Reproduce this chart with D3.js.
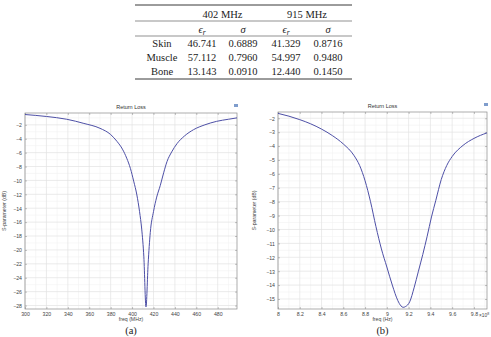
<html>
<head>
<script src="https://d3js.org/d3.v7.min.js"></script>
<style>
  body { margin: 0; background: #fff; }
  svg text { font-family: "Liberation Sans", Arial, sans-serif; }
  .tbl text { font-family: "Liberation Serif", "DejaVu Serif", serif; font-size: 10.5px; fill: #222; }
  .axis text { font-size: 5.2px; fill: #444; }
</style>
</head>
<body>
<svg id="fig" width="491" height="337"></svg>
<script>
// ---- table values ----
const tissues = ["Skin", "Muscle", "Bone"];
const eps402 = ["46.741", "57.112", "13.143"];
const sig402 = ["0.6889", "0.7960", "0.0910"];
const eps915 = ["41.329", "54.997", "12.440"];
const sig915 = ["0.8716", "0.9480", "0.1450"];
const bands = ["402 MHz", "915 MHz"];

// ---- (a) return loss, MHz / dB ----
const freqA = [300, 320, 339, 355, 370, 380, 386, 391, 395, 398.5, 401.5, 404.5, 407, 409, 411, 413,
               415, 417, 420, 423, 426.4, 429.5, 432.6, 437, 442, 449, 457.4, 468, 479, 490, 498];
const s11A  = [-0.52, -0.8, -1.2, -1.8, -2.5, -3.4, -4.4, -5.5, -6.8, -8.3, -10.1, -12.1, -14.5, -17, -21, -28.2,
               -22, -17.5, -14.5, -12.4, -10.7, -8.9, -7.3, -5.9, -4.7, -3.6, -2.7, -2.0, -1.5, -1.2, -1.0];
const ticksXA = [300, 320, 340, 360, 380, 400, 420, 440, 460, 480];
const ticksYA = [-2, -4, -6, -8, -10, -12, -14, -16, -18, -20, -22, -24, -26, -28];

// ---- (b) return loss, freq in 1e8 Hz / dB ----
const freqB = [8.0, 8.1, 8.2, 8.3, 8.4, 8.5, 8.6, 8.7, 8.75, 8.8, 8.85, 8.9, 8.95, 9.0, 9.05, 9.1, 9.13, 9.15,
               9.17, 9.21, 9.25, 9.29, 9.33, 9.37, 9.41, 9.45, 9.5, 9.55, 9.6, 9.7, 9.8, 9.92];
const s11B  = [-1.65, -1.85, -2.1, -2.4, -2.78, -3.25, -3.85, -4.7, -5.4, -6.5, -8.0, -9.8, -11.4, -12.7, -14.0, -15.1, -15.5, -15.6,
               -15.55, -15.2, -14.2, -13.0, -11.8, -10.5, -9.1, -7.9, -6.4, -5.4, -4.75, -3.95, -3.45, -3.05];
const ticksXB = [8, 8.2, 8.4, 8.6, 8.8, 9, 9.2, 9.4, 9.6, 9.8];
const ticksYB = [-2, -3, -4, -5, -6, -7, -8, -9, -10, -11, -12, -13, -14, -15];

const svg = d3.select("svg#fig");

// ---------- table ----------
const tbl = svg.append("g").attr("class", "tbl");
const colX = [162, 202, 243, 286, 328];
const rowY = [17.5, 32.5, 46.5, 60.5, 74.5];
[[5, 0.9], [21, 0.5], [36, 0.5], [79, 0.9]].forEach(r => {
  tbl.append("line").attr("x1", 135).attr("x2", 352)
    .attr("y1", r[0]).attr("y2", r[0]).attr("stroke", "#222").attr("stroke-width", r[1]);
});
tbl.selectAll("text.band").data(bands).join("text")
  .attr("x", (d, i) => (colX[1 + 2 * i] + colX[2 + 2 * i]) / 2)
  .attr("y", rowY[0]).attr("text-anchor", "middle").text(d => d);
[1, 2, 3, 4].forEach(c => {
  const t = tbl.append("text").attr("x", colX[c]).attr("y", rowY[1]).attr("text-anchor", "middle")
    .style("font-style", "italic");
  if (c % 2 == 1) {
    t.append("tspan").text("ϵ");
    t.append("tspan").attr("font-size", "7.5px").attr("dy", 2).text("r");
  } else {
    t.text("σ");
  }
});
tissues.forEach((name, i) => {
  [name, eps402[i], sig402[i], eps915[i], sig915[i]].forEach((v, c) => {
    tbl.append("text").attr("x", colX[c]).attr("y", rowY[2 + i])
      .attr("text-anchor", "middle").text(v);
  });
});

// ---------- plots ----------
function drawPanel(p) {
  const x = d3.scaleLinear().domain(p.xDomain).range([p.left, p.right]);
  const y = d3.scaleLinear().domain(p.yDomain).range([p.bottom, p.top]);
  const g = svg.append("g");

  // minor grid
  g.selectAll("line.minx").data(p.minorX).join("line")
    .attr("x1", d => x(d)).attr("x2", d => x(d)).attr("y1", p.top).attr("y2", p.bottom)
    .attr("stroke", "#f1f1f1").attr("stroke-width", 0.6);
  g.selectAll("line.miny").data(p.minorY).join("line")
    .attr("y1", d => y(d)).attr("y2", d => y(d)).attr("x1", p.left).attr("x2", p.right)
    .attr("stroke", "#f1f1f1").attr("stroke-width", 0.6);
  // major grid
  g.selectAll("line.gx").data(p.ticksX).join("line")
    .attr("x1", d => x(d)).attr("x2", d => x(d)).attr("y1", p.top).attr("y2", p.bottom)
    .attr("stroke", "#e2e2e2").attr("stroke-width", 0.7);
  g.selectAll("line.gy").data(p.ticksY).join("line")
    .attr("y1", d => y(d)).attr("y2", d => y(d)).attr("x1", p.left).attr("x2", p.right)
    .attr("stroke", "#e2e2e2").attr("stroke-width", 0.7);

  // axes (ticks pointing inwards)
  const bx = g.append("g").attr("class", "axis")
    .attr("transform", `translate(0,${p.bottom})`)
    .call(d3.axisBottom(x).tickValues(p.ticksX).tickSize(-2).tickPadding(3).tickFormat(p.fmtX));
  const ly = g.append("g").attr("class", "axis")
    .attr("transform", `translate(${p.left},0)`)
    .call(d3.axisLeft(y).tickValues(p.ticksY).tickSize(-2).tickPadding(3).tickFormat(d3.format("")));
  const ty = g.append("g").attr("class", "axis")
    .attr("transform", `translate(0,${p.top})`)
    .call(d3.axisTop(x).tickValues(p.ticksX).tickSize(-2).tickFormat(""));
  const ry = g.append("g").attr("class", "axis")
    .attr("transform", `translate(${p.right},0)`)
    .call(d3.axisRight(y).tickValues(p.ticksY).tickSize(-2).tickFormat(""));
  [bx, ly, ty, ry].forEach(a => {
    a.select(".domain").remove();
    a.selectAll(".tick line").attr("stroke", "#888").attr("stroke-width", 0.5);
  });
  ly.selectAll(".tick text").attr("dy", "0.35em");

  // frame
  g.append("rect").attr("x", p.left).attr("y", p.top)
    .attr("width", p.right - p.left).attr("height", p.bottom - p.top)
    .attr("fill", "none").attr("stroke", "#8a8a8a").attr("stroke-width", 0.7);

  // curve
  const pts = p.xs.map((v, i) => [v, p.ys[i]]);
  g.append("path").datum(pts)
    .attr("fill", "none").attr("stroke", "#4d4fa6").attr("stroke-width", 1)
    .attr("d", d3.line().x(d => x(d[0])).y(d => y(d[1])).curve(d3.curveMonotoneX));

  // titles
  const mid = (p.left + p.right) / 2;
  g.append("text").attr("x", mid).attr("y", p.top - 4).attr("text-anchor", "middle")
    .attr("font-size", "5.5px").attr("fill", "#333").text("Return Loss");
  g.append("rect").attr("x", p.right - 3).attr("y", p.top - 9).attr("width", 4).attr("height", 3)
    .attr("fill", "#7f9dcc");
  g.append("text").attr("x", mid).attr("y", p.bottom + 11.5).attr("text-anchor", "middle")
    .attr("font-size", "5.2px").attr("fill", "#444").text(p.xLabel);
  g.append("text").attr("transform", `translate(${p.yLabelX},${(p.top + p.bottom) / 2}) rotate(-90)`)
    .attr("text-anchor", "middle").attr("font-size", "5.2px").attr("fill", "#444")
    .text("S-parameter (dB)");
  if (p.exp) {
    const e = g.append("text").attr("x", p.right - 8).attr("y", p.bottom + 8.2)
      .attr("text-anchor", "start").attr("font-size", "4.8px").attr("fill", "#444");
    e.append("tspan").text("×10");
    e.append("tspan").attr("dy", -2).attr("font-size", "3.5px").text(p.exp);
  }
  svg.append("text").attr("x", mid).attr("y", 334).attr("text-anchor", "middle")
    .style("font-family", "'Liberation Serif', serif").attr("font-size", "10.5px").attr("fill", "#222")
    .text(p.caption);
}

drawPanel({
  left: 25, right: 237, top: 113, bottom: 309,
  xDomain: [300, 498], yDomain: [-28.5, -0.3],
  xs: freqA, ys: s11A, ticksX: ticksXA, ticksY: ticksYA,
  minorX: d3.range(310, 498, 20), minorY: d3.range(-27, 0, 2),
  fmtX: d3.format(""), xLabel: "freq (MHz)", yLabelX: 6, caption: "(a)"
});
drawPanel({
  left: 278, right: 487, top: 112, bottom: 309,
  xDomain: [8, 9.92], yDomain: [-15.72, -1.55],
  xs: freqB, ys: s11B, ticksX: ticksXB, ticksY: ticksYB,
  minorX: d3.range(8.1, 9.92, 0.2), minorY: d3.range(-15.5, -1.5, 1),
  fmtX: d3.format(""), xLabel: "freq (Hz)", yLabelX: 256, caption: "(b)", exp: "8"
});
</script>
</body>
</html>
